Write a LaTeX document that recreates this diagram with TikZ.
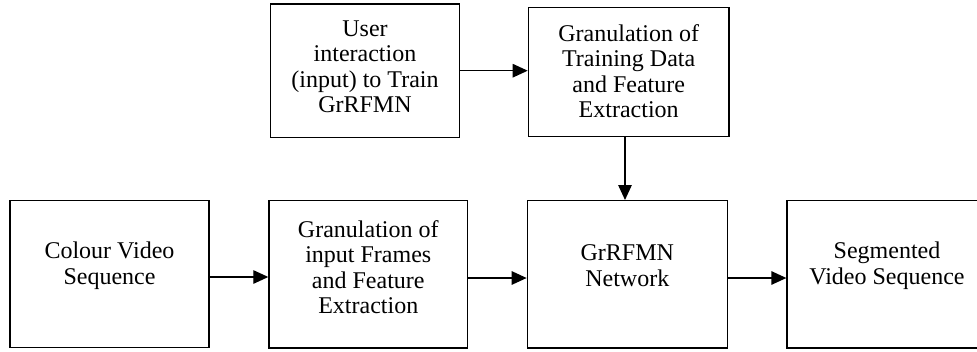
\documentclass[tikz,border=0pt]{standalone}
\usepackage{fontspec}
\setmainfont{Liberation Serif}
\usetikzlibrary{arrows.meta}
\tikzset{
  box/.style={draw, line width=1.3pt, rectangle, inner sep=0pt},
  txt/.style={align=center, font=\fontsize{24}{25.5}\selectfont, inner sep=0pt},
  conn/.style={line width=1.3pt, -{Triangle[length=15pt,width=13.5pt]}}
}
\begin{document}
\begin{tikzpicture}[x=1pt,y=-1pt]
\useasboundingbox (0,0) rectangle (977,351);
% boxes
\node[box, minimum width=188.6pt, minimum height=133.7pt] (user) at (365,70.8) {};
\node[box, minimum width=200.7pt, minimum height=129.4pt] (train) at (628.7,72) {};
\node[box, minimum width=199pt, minimum height=147pt] (colour) at (109.5,274.2) {};
\node[box, minimum width=198.7pt, minimum height=147.3pt] (gran) at (368.3,274.3) {};
\node[box, minimum width=200pt, minimum height=147.3pt] (net) at (627.3,274.3) {};
\node[box, minimum width=200pt, minimum height=147.3pt] (seg) at (887,274.3) {};
% texts
\node[txt] (usert) at (365,67) {User\\interaction\\(input) to Train\\GrRFMN};
\node[txt] (traint) at (628.7,71) {Granulation of\\Training Data\\and Feature\\Extraction};
\node[txt] (colourt) at (109.5,265.5) {Colour Video\\Sequence};
\node[txt] (grant) at (368.3,267) {Granulation of\\input Frames\\and Feature\\Extraction};
\node[txt] (nett) at (627.3,265.5) {GrRFMN\\Network};
\node[txt] (segt) at (887,265.5) {Segmented\\Video Sequence};
% connectors
\draw[conn] (user.east |- 0,70.7) -- (train.west |- 0,70.7);
\draw[conn] (train.south -| 625,0) -- (net.north -| 625,0);
\draw[conn] (colour.east |- 0,277) -- (gran.west |- 0,277);
\draw[conn] (gran.east |- 0,278) -- (net.west |- 0,278);
\draw[conn] (net.east |- 0,278) -- (seg.west |- 0,278);
\end{tikzpicture}
\end{document}
